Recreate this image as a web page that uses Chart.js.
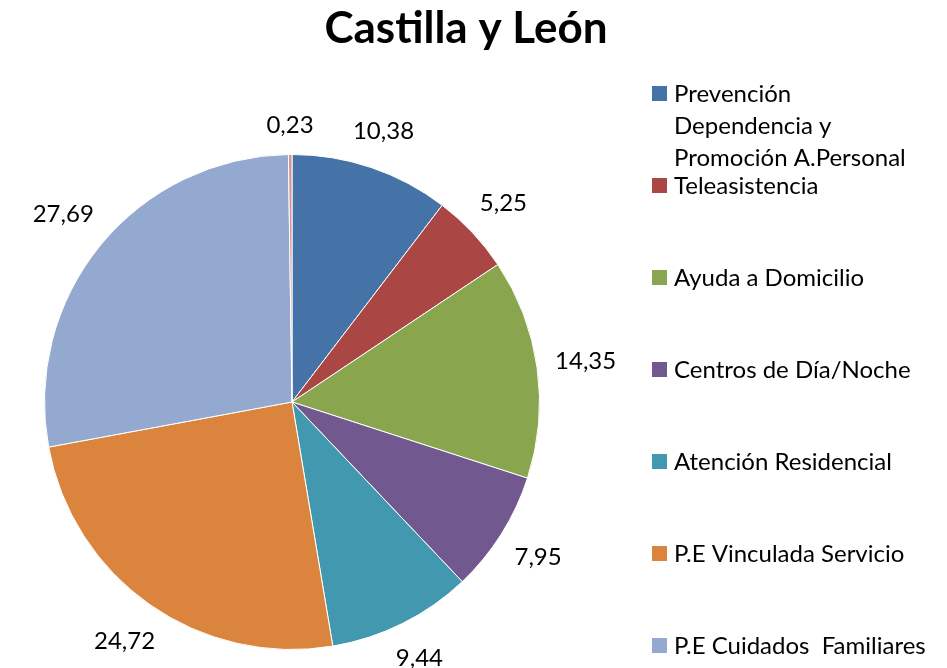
<!DOCTYPE html>
<html>
<head>
<meta charset="utf-8">
<script src="https://cdn.jsdelivr.net/npm/chart.js@4"></script>
<style>
  html, body { margin: 0; padding: 0; background: #ffffff; }
  #wrap { width: 947px; height: 668px; }
</style>
</head>
<body>
<div id="wrap"><canvas id="c" width="947" height="668"></canvas></div>
<script>
const chartTitle = "Castilla y León";
const categories = [
  ["Prevención", "Dependencia y", "Promoción A.Personal"],
  "Teleasistencia",
  "Ayuda a Domicilio",
  "Centros de Día/Noche",
  "Atención Residencial",
  "P.E Vinculada Servicio",
  "P.E Cuidados  Familiares",
  ""
];
const values = [10.38, 5.25, 14.35, 7.95, 9.44, 24.72, 27.69, 0.23];
const colors = ["#4572A7", "#AA4643", "#89A54E", "#71588F", "#4198AF", "#DB843D", "#93A9CF", "#D19392"];
const legendCount = 7;

const FONT = "Lato, 'Open Sans', sans-serif";

const overlay = {
  id: 'overlay',
  afterDraw(chart) {
    const ctx = chart.ctx;
    ctx.save();
    // Title
    ctx.fillStyle = '#000';
    ctx.font = "bold 44px " + FONT;
    ctx.textAlign = 'center';
    ctx.textBaseline = 'middle';
    ctx.fillText(chartTitle, 466, 29);

    // Value labels
    ctx.font = "24px " + FONT;
    const meta = chart.getDatasetMeta(0);
    meta.data.forEach((arc, i) => {
      const p = arc.getProps(['x', 'y', 'startAngle', 'endAngle', 'outerRadius'], true);
      const mid = (p.startAngle + p.endAngle) / 2;
      const dx = Math.cos(mid), dy = Math.sin(mid);
      const txt = values[i].toFixed(2).replace('.', ',');
      const w = ctx.measureText(txt).width;
      const h = 24;
      const ext = Math.abs(dx) * w / 2 + Math.abs(dy) * h / 2;
      const d = p.outerRadius + 17 + ext;
      ctx.fillText(txt, p.x + dx * d, p.y + dy * d);
    });

    // Legend
    ctx.textAlign = 'left';
    const lx = 652, tx = 674, y0 = 94, step = 92, lineH = 32;
    for (let i = 0; i < legendCount; i++) {
      const y = y0 + i * step;
      ctx.fillStyle = colors[i];
      ctx.fillRect(lx, y - 8, 15, 15);
      ctx.fillStyle = '#000';
      const lines = Array.isArray(categories[i]) ? categories[i] : [categories[i]];
      lines.forEach((ln, k) => ctx.fillText(ln, tx, y + k * lineH));
    }
    ctx.restore();
  }
};

new Chart(document.getElementById('c'), {
  type: 'pie',
  data: {
    labels: categories,
    datasets: [{
      data: values,
      backgroundColor: colors,
      borderColor: '#ffffff',
      borderWidth: 1
    }]
  },
  options: {
    responsive: false,
    animation: false,
    events: [],
    layout: { padding: { left: 44, right: 407, top: 154, bottom: 18 } },
    plugins: {
      legend: { display: false },
      title: { display: false },
      tooltip: { enabled: false }
    }
  },
  plugins: [overlay]
});
</script>
</body>
</html>
